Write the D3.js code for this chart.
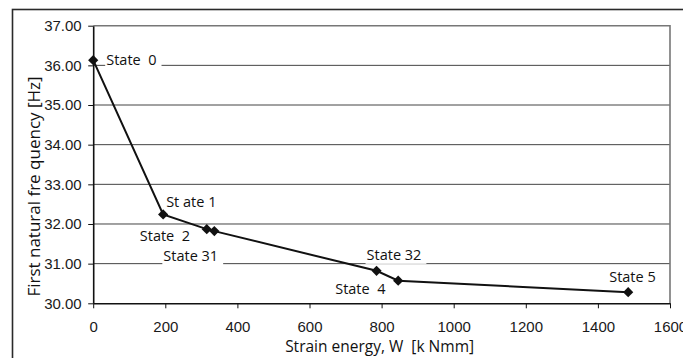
<!DOCTYPE html>
<html>
<head>
<meta charset="utf-8">
<script src="https://cdn.jsdelivr.net/npm/d3@7/dist/d3.min.js"></script>
<style>
  html, body { margin: 0; padding: 0; background: #fff; }
  svg { display: block; }
  .tick text { font-family: "Liberation Sans", Arial, sans-serif; font-size: 15px; fill: #1a1a1a; }
  .lbl { font-family: "Open Sans", "Noto Sans", sans-serif; font-size: 14.5px; fill: #111; white-space: pre; }
  .title { font-family: "Open Sans", "Noto Sans", sans-serif; font-size: 15.5px; fill: #111; white-space: pre; }
</style>
</head>
<body>
<svg id="chart" width="683" height="358"></svg>
<script>
// Measured states: strain energy W [kNmm] vs first natural frequency [Hz]
const stateNames = ["State  0", "St ate 1", "State  2", "State 31", "State 32", "State  4", "State 5"];
const strainEnergy = [0, 194, 315, 336, 786, 846, 1484];
const frequency = [36.13, 32.24, 31.87, 31.82, 30.82, 30.57, 30.28];

const xTicks = [0, 200, 400, 600, 800, 1000, 1200, 1400, 1600];
const yTicks = [30, 31, 32, 33, 34, 35, 36, 37];

// label placement relative to each marker (pixels)
const labelOffsets = [[13, 0], [3, -13], [-67, 7], [-51, 25], [-10, -16], [-63, 8], [-19, -15]];

const svg = d3.select("#chart");
const W = 683, H = 358;
const plot = { left: 93.2, right: 670, top: 25.7, bottom: 303.3 };

svg.append("rect").attr("width", W).attr("height", H).attr("fill", "#fff");

// outer frame (runs off the right and bottom edges)
svg.append("rect")
  .attr("x", 12.5).attr("y", 9.5)
  .attr("width", W + 20).attr("height", H + 20)
  .attr("fill", "none").attr("stroke", "#2a2a2a").attr("stroke-width", 1.6);

const x = d3.scaleLinear().domain([0, 1600]).range([plot.left, plot.right]);
const y = d3.scaleLinear().domain([30, 37]).range([plot.bottom, plot.top]);

// horizontal gridlines
svg.append("g")
  .selectAll("line")
  .data(yTicks.filter(v => v > 30 && v < 37))
  .join("line")
  .attr("x1", plot.left).attr("x2", plot.right)
  .attr("y1", d => y(d)).attr("y2", d => y(d))
  .attr("stroke", "#444").attr("stroke-width", 1);

// plot border (top and right)
svg.append("path")
  .attr("d", `M${plot.left},${y(37)}H${plot.right}V${plot.bottom}`)
  .attr("fill", "none").attr("stroke", "#777").attr("stroke-width", 1.6);

// y axis
const yAxis = svg.append("g")
  .attr("transform", `translate(${plot.left},0)`)
  .call(d3.axisLeft(y).tickValues(yTicks).tickFormat(d3.format(".2f")).tickSize(5).tickSizeOuter(0));
yAxis.select(".domain").attr("stroke", "#111").attr("stroke-width", 1.6);
yAxis.selectAll(".tick line").attr("stroke", "#111");
yAxis.selectAll(".tick text").attr("x", -11.5);

// x axis
const xAxis = svg.append("g")
  .attr("transform", `translate(0,${plot.bottom})`)
  .call(d3.axisBottom(x).tickValues(xTicks).tickFormat(d3.format("d")).tickSize(5).tickSizeOuter(0));
xAxis.select(".domain").attr("stroke", "#111").attr("stroke-width", 1.6);
xAxis.selectAll(".tick line").attr("stroke", "#111");
xAxis.selectAll(".tick text").attr("y", 29).attr("dy", null);

const pts = strainEnergy.map((w, i) => ({ w, f: frequency[i], name: stateNames[i], off: labelOffsets[i] }));

// connecting line
svg.append("path")
  .datum(pts)
  .attr("d", d3.line().x(d => x(d.w)).y(d => y(d.f)))
  .attr("fill", "none").attr("stroke", "#111").attr("stroke-width", 2);

// diamond markers
svg.append("g")
  .selectAll("path")
  .data(pts)
  .join("path")
  .attr("d", d3.symbol(d3.symbolSquare, 52))
  .attr("transform", d => `translate(${x(d.w)},${y(d.f)}) rotate(45)`)
  .attr("fill", "#111");

// state labels with white backing
const lbl = svg.append("g")
  .selectAll("g")
  .data(pts)
  .join("g")
  .attr("transform", d => `translate(${x(d.w) + d.off[0]},${y(d.f) + d.off[1]})`);
lbl.append("text")
  .attr("class", "lbl")
  .attr("dy", "0.35em")
  .text(d => d.name);
lbl.each(function () {
  const g = d3.select(this);
  const bb = g.select("text").node().getBBox();
  g.insert("rect", "text")
    .attr("x", bb.x - 1).attr("y", bb.y)
    .attr("width", bb.width + 6).attr("height", bb.height)
    .attr("fill", "#fff");
});

// axis titles
svg.append("text")
  .attr("class", "title")
  .attr("x", (plot.left + plot.right) / 2 - 2).attr("y", 351.5)
  .attr("text-anchor", "middle")
  .text("Strain energy, W  [k Nmm]");

svg.append("text")
  .attr("class", "title")
  .attr("transform", "translate(40,186.5) rotate(-90)")
  .attr("text-anchor", "middle")
  .style("font-size", "17px")
  .text("First natural fre quency [Hz]");
</script>
</body>
</html>
